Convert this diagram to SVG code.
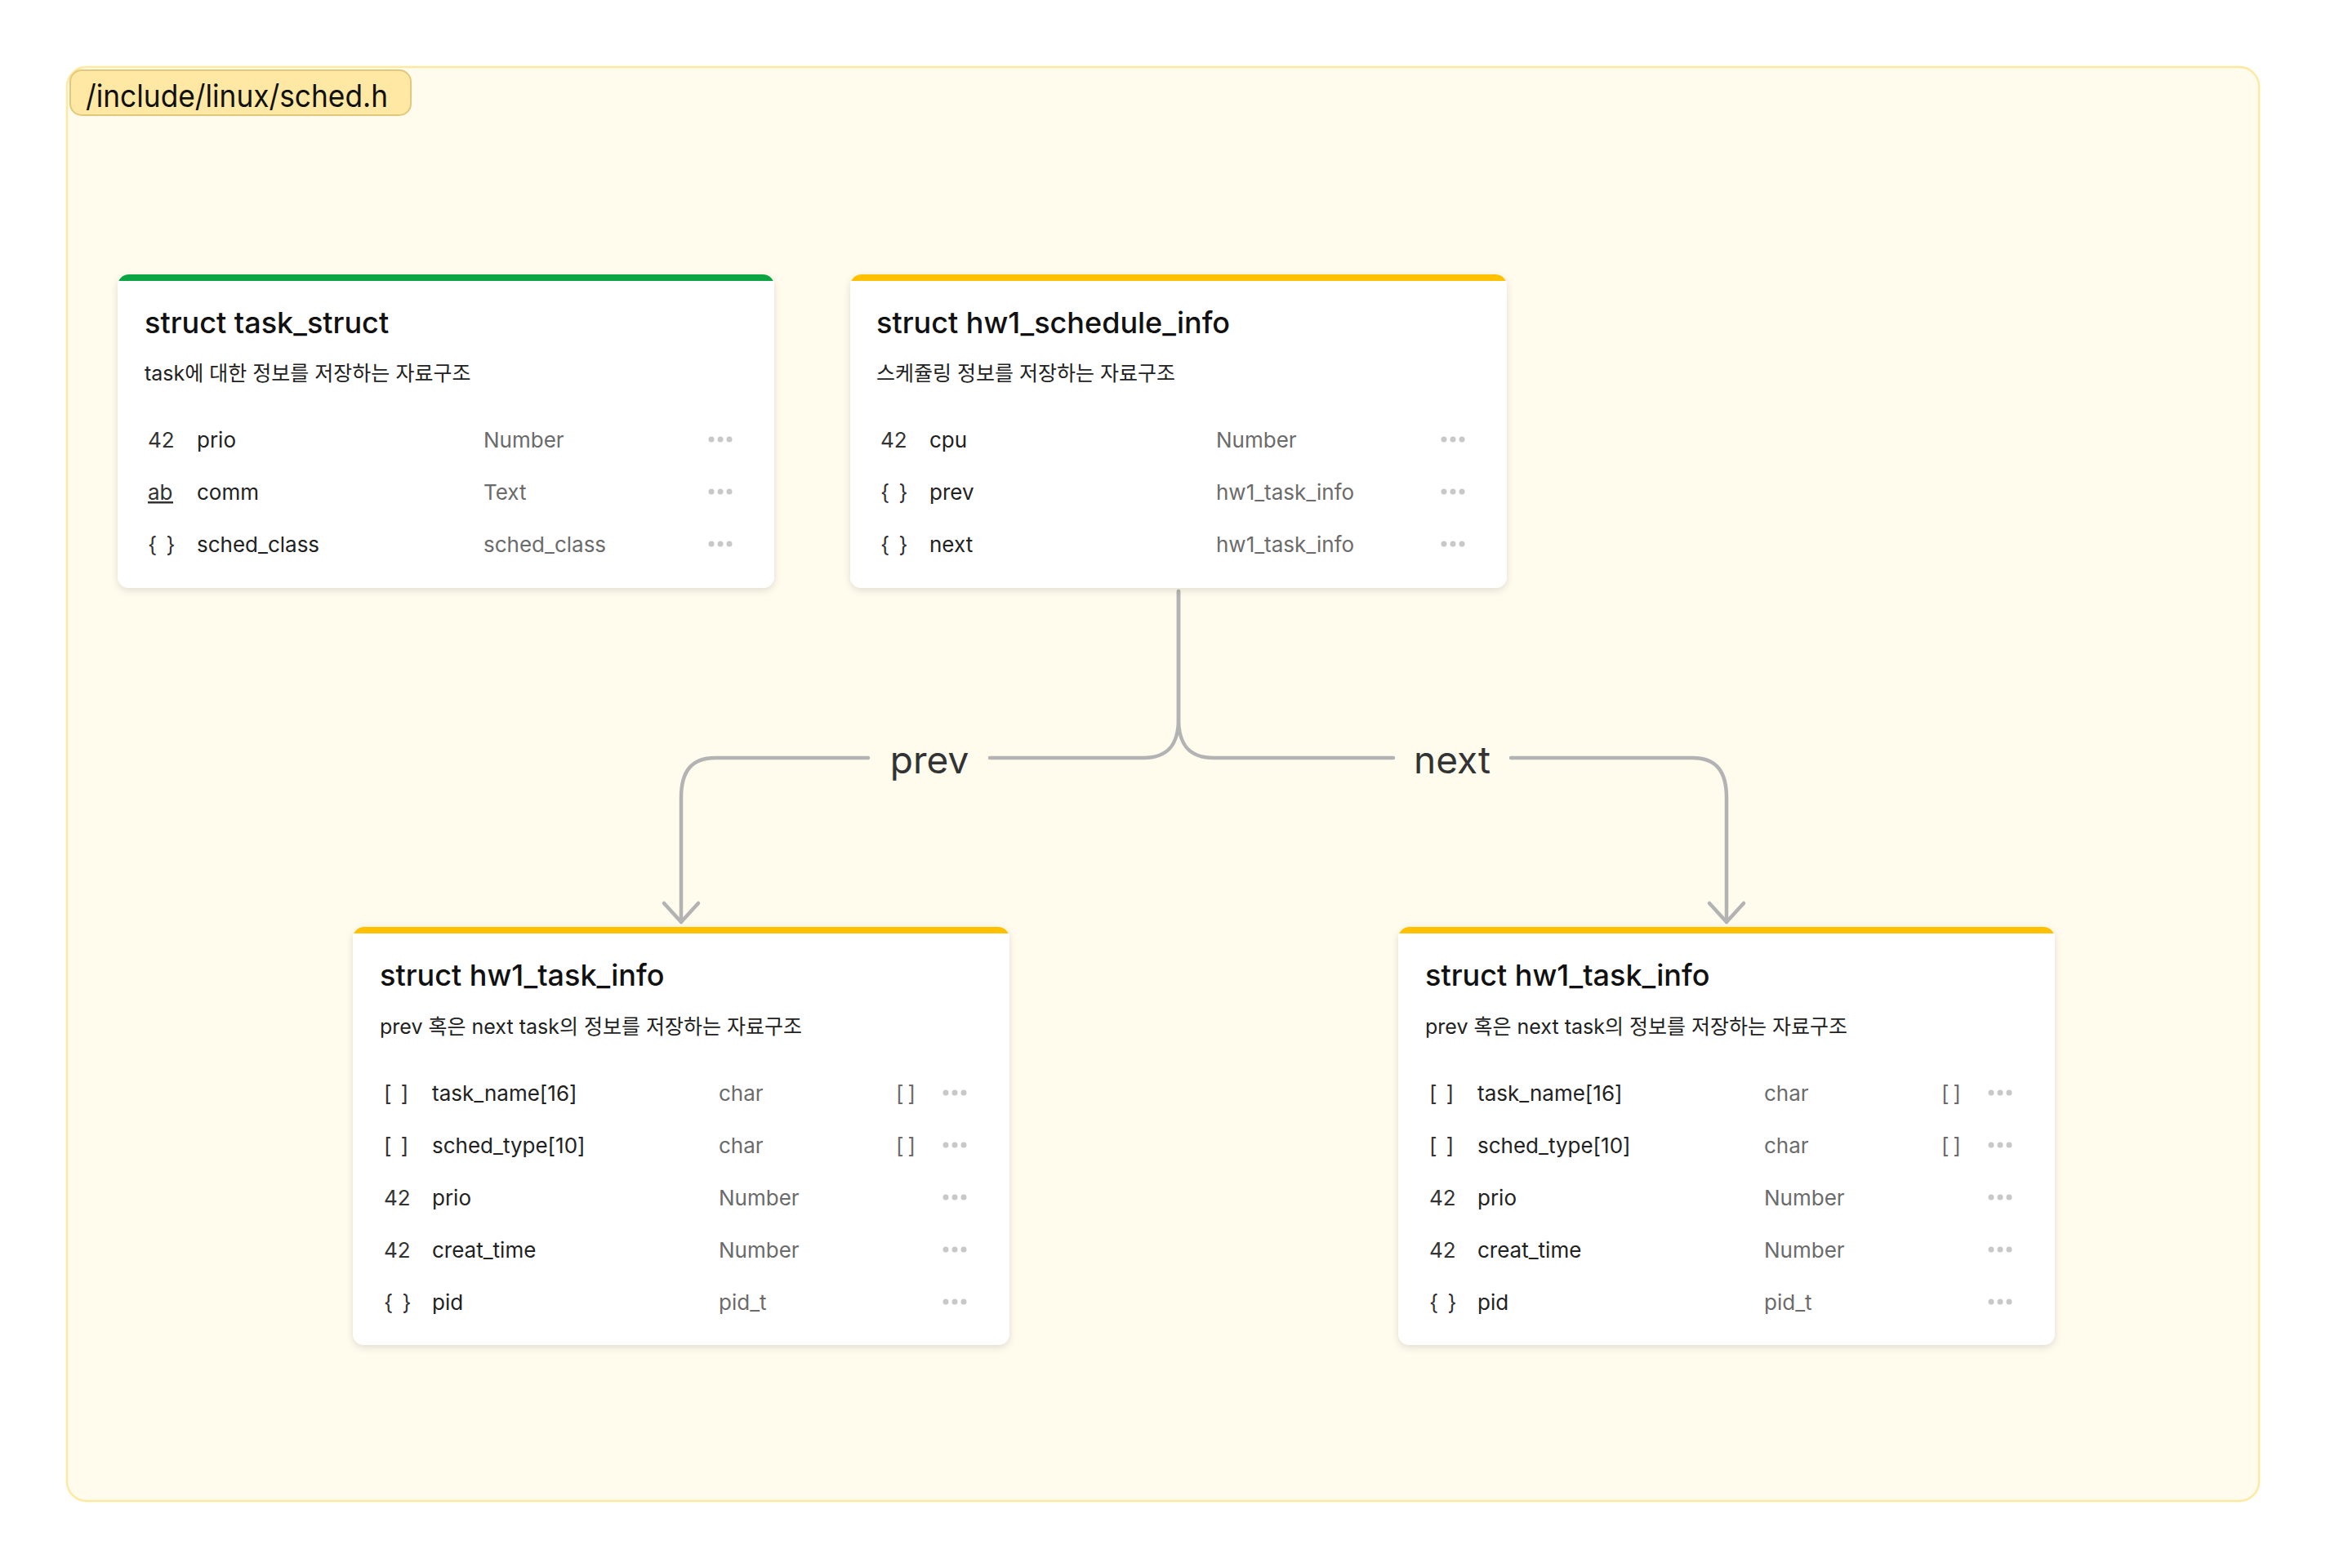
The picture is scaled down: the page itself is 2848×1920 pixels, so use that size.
<svg xmlns="http://www.w3.org/2000/svg" width="2848" height="1920" viewBox="0 0 2848 1920">
<defs>
<style>
text{font-family:Inter,"Noto Sans CJK KR",sans-serif}
.title{font-size:36px;font-weight:500;fill:#111}
.desc{font-size:25px;fill:#222}
.ic{font-size:26px;fill:#333}
.ics{font-size:26px;fill:#333;letter-spacing:2px}
.nm{font-size:26px;fill:#222}
.ty{font-size:26px;fill:#6b6b6b}
.br{font-size:26px;fill:#6b6b6b;letter-spacing:5px}
.dot{fill:#c8c8c8}
.card{fill:#fff}
.conn{fill:none;stroke:#b3b3b3;stroke-width:4.5;stroke-linecap:round;stroke-linejoin:round}
.lbl{font-size:46px;fill:#333;text-anchor:middle}
</style>
<filter id="sh" x="-10%" y="-10%" width="120%" height="130%">
<feDropShadow dx="0" dy="3" stdDeviation="5" flood-color="#000" flood-opacity="0.12"/>
</filter>
<marker id="arr" markerUnits="userSpaceOnUse" viewBox="-30 -30 60 60" markerWidth="60" markerHeight="60" refX="0" refY="0" orient="auto" overflow="visible">
<path d="M-23,-21 L0,0 L-23,21" fill="none" stroke="#b3b3b3" stroke-width="4.5" stroke-linecap="round" stroke-linejoin="round"/>
</marker>
<clipPath id="cA"><rect x="144" y="336" width="804" height="384" rx="14"/></clipPath>
<clipPath id="cB"><rect x="1041" y="336" width="804" height="384" rx="14"/></clipPath>
<clipPath id="cC"><rect x="432" y="1135" width="804" height="512" rx="14"/></clipPath>
<clipPath id="cD"><rect x="1712" y="1135" width="804" height="512" rx="14"/></clipPath>
</defs>
<rect width="2848" height="1920" fill="#fff"/>
<g id="container">
<rect x="82" y="82" width="2684" height="1756" rx="24" fill="#fffcee" stroke="#ffe8a0" stroke-width="2.5"/>
<rect x="86" y="86" width="417" height="55" rx="14" fill="#ffe8a3" stroke="#e3c87c" stroke-width="2"/>
<text x="105" y="131" textLength="370" lengthAdjust="spacingAndGlyphs" style="font-size:38px;fill:#111">/include/linux/sched.h</text>
</g>
<g id="connectors">
<path class="conn" d="M1443,724 V880 C1443,912 1430,928 1400,928 H1212"/>
<path class="conn" d="M1063,928 H876 C846,928 834,945 834,977 V1129" marker-end="url(#arr)"/>
<path class="conn" d="M1443,724 V880 C1443,912 1456,928 1486,928 H1706"/>
<path class="conn" d="M1850,928 H2072 C2102,928 2114,945 2114,977 V1129" marker-end="url(#arr)"/>
<text class="lbl" x="1138" y="947">prev</text>
<text class="lbl" x="1778" y="947">next</text>
</g>
<g id="task_struct">
<rect class="card" x="144" y="336" width="804" height="384" rx="14" filter="url(#sh)"/>
<rect x="144" y="336" width="804" height="8" fill="#0aa542" clip-path="url(#cA)"/>
<text class="title" x="177" y="408">struct task_struct</text>
<text class="desc" x="177" y="466">task에 대한 정보를 저장하는 자료구조</text>
<text class="ic" x="181" y="548">42</text><text class="nm" x="241" y="548">prio</text><text class="ty" x="592" y="548">Number</text>
<circle class="dot" cx="871" cy="538" r="3.5"/><circle class="dot" cx="882" cy="538" r="3.5"/><circle class="dot" cx="893" cy="538" r="3.5"/>
<text class="ic" x="181" y="612">ab</text><rect x="181" y="614" width="31" height="2.5" fill="#333"/><text class="nm" x="241" y="612">comm</text><text class="ty" x="592" y="612">Text</text>
<circle class="dot" cx="871" cy="602" r="3.5"/><circle class="dot" cx="882" cy="602" r="3.5"/><circle class="dot" cx="893" cy="602" r="3.5"/>
<text class="ics" x="181" y="676">{ }</text><text class="nm" x="241" y="676">sched_class</text><text class="ty" x="592" y="676">sched_class</text>
<circle class="dot" cx="871" cy="666" r="3.5"/><circle class="dot" cx="882" cy="666" r="3.5"/><circle class="dot" cx="893" cy="666" r="3.5"/>
</g>
<g id="hw1_schedule_info">
<rect class="card" x="1041" y="336" width="804" height="384" rx="14" filter="url(#sh)"/>
<rect x="1041" y="336" width="804" height="8" fill="#ffc000" clip-path="url(#cB)"/>
<text class="title" x="1073" y="408">struct hw1_schedule_info</text>
<text class="desc" x="1073" y="466">스케쥴링 정보를 저장하는 자료구조</text>
<text class="ic" x="1078" y="548">42</text><text class="nm" x="1138" y="548">cpu</text><text class="ty" x="1489" y="548">Number</text>
<circle class="dot" cx="1768" cy="538" r="3.5"/><circle class="dot" cx="1779" cy="538" r="3.5"/><circle class="dot" cx="1790" cy="538" r="3.5"/>
<text class="ics" x="1078" y="612">{ }</text><text class="nm" x="1138" y="612">prev</text><text class="ty" x="1489" y="612">hw1_task_info</text>
<circle class="dot" cx="1768" cy="602" r="3.5"/><circle class="dot" cx="1779" cy="602" r="3.5"/><circle class="dot" cx="1790" cy="602" r="3.5"/>
<text class="ics" x="1078" y="676">{ }</text><text class="nm" x="1138" y="676">next</text><text class="ty" x="1489" y="676">hw1_task_info</text>
<circle class="dot" cx="1768" cy="666" r="3.5"/><circle class="dot" cx="1779" cy="666" r="3.5"/><circle class="dot" cx="1790" cy="666" r="3.5"/>
</g>
<g id="hw1_task_info_prev">
<rect class="card" x="432" y="1135" width="804" height="512" rx="14" filter="url(#sh)"/>
<rect x="432" y="1135" width="804" height="8" fill="#ffc000" clip-path="url(#cC)"/>
<text class="title" x="465" y="1207">struct hw1_task_info</text>
<text class="desc" x="465" y="1266">prev 혹은 next task의 정보를 저장하는 자료구조</text>
<text class="ics" x="470" y="1348">[ ]</text><text class="nm" x="529" y="1348">task_name[16]</text><text class="ty" x="880" y="1348">char</text><text class="br" x="1097" y="1348">[]</text>
<circle class="dot" cx="1158" cy="1338" r="3.5"/><circle class="dot" cx="1169" cy="1338" r="3.5"/><circle class="dot" cx="1180" cy="1338" r="3.5"/>
<text class="ics" x="470" y="1412">[ ]</text><text class="nm" x="529" y="1412">sched_type[10]</text><text class="ty" x="880" y="1412">char</text><text class="br" x="1097" y="1412">[]</text>
<circle class="dot" cx="1158" cy="1402" r="3.5"/><circle class="dot" cx="1169" cy="1402" r="3.5"/><circle class="dot" cx="1180" cy="1402" r="3.5"/>
<text class="ic" x="470" y="1476">42</text><text class="nm" x="529" y="1476">prio</text><text class="ty" x="880" y="1476">Number</text>
<circle class="dot" cx="1158" cy="1466" r="3.5"/><circle class="dot" cx="1169" cy="1466" r="3.5"/><circle class="dot" cx="1180" cy="1466" r="3.5"/>
<text class="ic" x="470" y="1540">42</text><text class="nm" x="529" y="1540">creat_time</text><text class="ty" x="880" y="1540">Number</text>
<circle class="dot" cx="1158" cy="1530" r="3.5"/><circle class="dot" cx="1169" cy="1530" r="3.5"/><circle class="dot" cx="1180" cy="1530" r="3.5"/>
<text class="ics" x="470" y="1604">{ }</text><text class="nm" x="529" y="1604">pid</text><text class="ty" x="880" y="1604">pid_t</text>
<circle class="dot" cx="1158" cy="1594" r="3.5"/><circle class="dot" cx="1169" cy="1594" r="3.5"/><circle class="dot" cx="1180" cy="1594" r="3.5"/>
</g>
<g id="hw1_task_info_next">
<rect class="card" x="1712" y="1135" width="804" height="512" rx="14" filter="url(#sh)"/>
<rect x="1712" y="1135" width="804" height="8" fill="#ffc000" clip-path="url(#cD)"/>
<text class="title" x="1745" y="1207">struct hw1_task_info</text>
<text class="desc" x="1745" y="1266">prev 혹은 next task의 정보를 저장하는 자료구조</text>
<text class="ics" x="1750" y="1348">[ ]</text><text class="nm" x="1809" y="1348">task_name[16]</text><text class="ty" x="2160" y="1348">char</text><text class="br" x="2377" y="1348">[]</text>
<circle class="dot" cx="2438" cy="1338" r="3.5"/><circle class="dot" cx="2449" cy="1338" r="3.5"/><circle class="dot" cx="2460" cy="1338" r="3.5"/>
<text class="ics" x="1750" y="1412">[ ]</text><text class="nm" x="1809" y="1412">sched_type[10]</text><text class="ty" x="2160" y="1412">char</text><text class="br" x="2377" y="1412">[]</text>
<circle class="dot" cx="2438" cy="1402" r="3.5"/><circle class="dot" cx="2449" cy="1402" r="3.5"/><circle class="dot" cx="2460" cy="1402" r="3.5"/>
<text class="ic" x="1750" y="1476">42</text><text class="nm" x="1809" y="1476">prio</text><text class="ty" x="2160" y="1476">Number</text>
<circle class="dot" cx="2438" cy="1466" r="3.5"/><circle class="dot" cx="2449" cy="1466" r="3.5"/><circle class="dot" cx="2460" cy="1466" r="3.5"/>
<text class="ic" x="1750" y="1540">42</text><text class="nm" x="1809" y="1540">creat_time</text><text class="ty" x="2160" y="1540">Number</text>
<circle class="dot" cx="2438" cy="1530" r="3.5"/><circle class="dot" cx="2449" cy="1530" r="3.5"/><circle class="dot" cx="2460" cy="1530" r="3.5"/>
<text class="ics" x="1750" y="1604">{ }</text><text class="nm" x="1809" y="1604">pid</text><text class="ty" x="2160" y="1604">pid_t</text>
<circle class="dot" cx="2438" cy="1594" r="3.5"/><circle class="dot" cx="2449" cy="1594" r="3.5"/><circle class="dot" cx="2460" cy="1594" r="3.5"/>
</g>
</svg>
